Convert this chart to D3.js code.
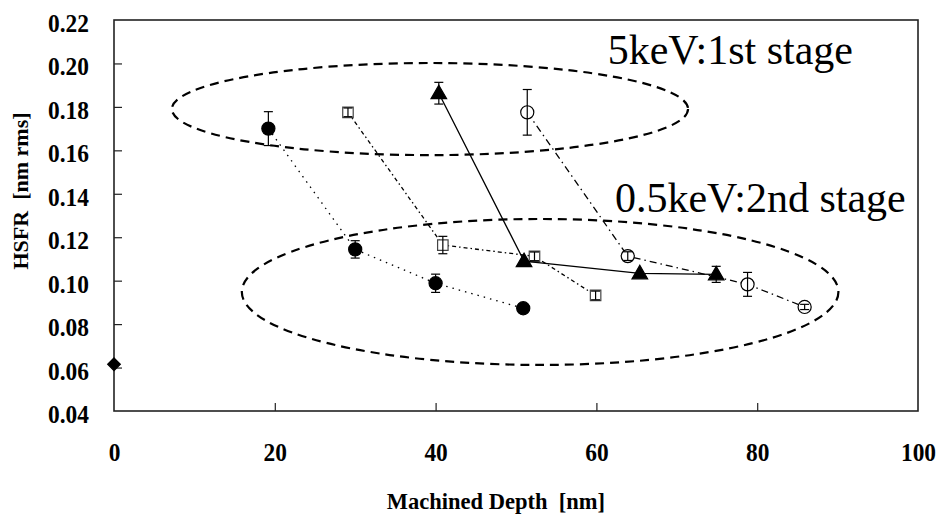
<!DOCTYPE html>
<html>
<head>
<meta charset="utf-8">
<script src="https://cdn.jsdelivr.net/npm/d3@7"></script>
<style>
  body { margin: 0; background: #fff; }
  text { font-family: "Liberation Serif", "Times New Roman", serif; white-space: pre; }
</style>
</head>
<body>
<svg id="chart" width="939" height="516"></svg>
<script>
// ---- data ----
const xTicks = [0, 20, 40, 60, 80, 100];
const yTicks = [0.04, 0.06, 0.08, 0.10, 0.12, 0.14, 0.16, 0.18, 0.20, 0.22];

// untreated point
const startDepth = [0];
const startHsfr = [0.0615];

// filled circles
const circDepth = [19.2, 30.0, 40.0, 50.9];
const circHsfr  = [0.170, 0.1144, 0.0988, 0.0873];
const circErr   = [0.0078, 0.004, 0.0042, 0];

// open squares
const sqDepth = [29.1, 40.9, 52.3, 59.9];
const sqHsfr  = [0.1775, 0.1164, 0.1112, 0.0932];
const sqErr   = [0.002, 0.004, 0.002, 0.002];

// filled triangles
const triDepth = [40.4, 51.0, 65.4, 74.9];
const triHsfr  = [0.1863, 0.109, 0.1034, 0.1029];
const triErr   = [0.005, 0, 0, 0.0037];

// open circles
const ocDepth = [51.4, 63.9, 78.8, 85.9];
const ocHsfr  = [0.1775, 0.1113, 0.0983, 0.0879];
const ocErr   = [0.0105, 0.002, 0.0055, 0.0012];

// stage ellipses (centre + radii in data units) and their labels
const ellipseNames = ['stage1', 'stage2'];
const ellipseCx = [39.3, 53.0];
const ellipseCy = [0.179, 0.0948];
const ellipseRx = [32.1, 37.1];
const ellipseRy = [0.0212, 0.0336];

const noteText = ['5keV:1st stage', '0.5keV:2nd stage'];
const noteX = [61.4, 62.3];
const noteY = [0.1998, 0.1318];

// ---- layout ----
const svg = d3.select('#chart');
const margin = {top: 20, right: 21, bottom: 105, left: 114};
const size = {w: 939 - margin.left - margin.right, h: 516 - margin.top - margin.bottom};

const x = d3.scaleLinear().domain([0, 100]).range([0, size.w]);
const y = d3.scaleLinear().domain([0.04, 0.22]).range([size.h, 0]);

const containerG = svg.append('g')
    .attr('transform', `translate(${margin.left}, ${margin.top})`);

function zip(xs, ys, es) {
    return xs.map((d, i) => ({x: d, y: ys[i], e: es ? es[i] : 0}));
}

// tick labels in the picture are a bit tall and narrow
const squeeze = 0.9;

// ---- axes (ticks point inward) ----
const yAxis = d3.axisLeft(y).tickValues(yTicks).tickSize(-8)
    .tickFormat(d3.format('.2f'));
const xAxis = d3.axisBottom(x).tickValues(xTicks).tickSize(-8)
    .tickFormat(d3.format('d'));

const yG = containerG.append('g').call(yAxis);
const xG = containerG.append('g').attr('transform', `translate(0, ${size.h})`).call(xAxis);

[xG, yG].forEach(g => {
    g.attr('font-family', '"Liberation Serif", serif');
    g.select('.domain').remove();
    g.selectAll('.tick line').attr('stroke', '#222').attr('stroke-width', 1.2);
    g.selectAll('.tick text')
        .attr('fill', '#000')
        .attr('font-size', 26)
        .attr('font-weight', 'bold')
        .attr('dy', 0)
        .attr('transform', `scale(${squeeze}, 1)`);
});
yG.selectAll('.tick text').attr('x', -25 / squeeze).attr('y', 11.5);
xG.selectAll('.tick text').attr('x', 0).attr('y', 50);
yG.selectAll('.tick line').filter(d => d === 0.04 || d === 0.22).remove();
xG.selectAll('.tick line').filter(d => d === 0 || d === 100).remove();

// frame
containerG.append('rect')
    .attr('width', size.w)
    .attr('height', size.h)
    .attr('fill', 'none')
    .attr('stroke', '#222')
    .attr('stroke-width', 1.6);

// axis titles
svg.append('text')
    .attr('x', margin.left + x(47.5))
    .attr('y', 509)
    .attr('text-anchor', 'middle')
    .attr('font-size', 22.5)
    .attr('font-weight', 'bold')
    .text('Machined Depth  [nm]');

svg.append('text')
    .attr('transform', `translate(28, 191) rotate(-90)`)
    .attr('text-anchor', 'middle')
    .attr('font-size', 22)
    .attr('font-weight', 'bold')
    .text('HSFR  [nm rms]');

// ---- ellipses ----
containerG.selectAll('ellipse.stage')
    .data(ellipseNames.map((n, i) => ({n, cx: ellipseCx[i], cy: ellipseCy[i], rx: ellipseRx[i], ry: ellipseRy[i]})))
    .join('ellipse')
    .classed('stage', true)
    .attr('cx', d => x(d.cx))
    .attr('cy', d => y(d.cy))
    .attr('rx', d => x(d.rx) - x(0))
    .attr('ry', d => y(0) - y(d.ry))
    .attr('fill', 'none')
    .attr('stroke', '#000')
    .attr('stroke-width', 2.2)
    .attr('stroke-dasharray', '9,6');

containerG.selectAll('text.note')
    .data(noteText.map((t, i) => ({t, x: noteX[i], y: noteY[i]})))
    .join('text')
    .classed('note', true)
    .attr('x', d => x(d.x))
    .attr('y', d => y(d.y))
    .attr('font-size', 42)
    .attr('fill', '#000')
    .text(d => d.t);

// ---- series ----
const line = d3.line().x(d => x(d.x)).y(d => y(d.y));

const series = [
    {name: 'circ', pts: zip(circDepth, circHsfr, circErr), dash: '1.5,5', sym: 'circle', fill: '#000'},
    {name: 'sq', pts: zip(sqDepth, sqHsfr, sqErr), dash: '4,3,1.5,3', sym: 'square', fill: '#fff'},
    {name: 'tri', pts: zip(triDepth, triHsfr, triErr), dash: null, sym: 'triangle', fill: '#000'},
    {name: 'oc', pts: zip(ocDepth, ocHsfr, ocErr), dash: '7,4,1.5,4', sym: 'circle', fill: '#fff'},
    {name: 'start', pts: zip(startDepth, startHsfr), dash: null, sym: 'diamond', fill: '#000'}
];

// square diamond (d3's own diamond is too tall)
const squareDiamond = {
    draw(ctx, s) {
        const r = Math.sqrt(s / 2);
        ctx.moveTo(0, -r);
        ctx.lineTo(r, 0);
        ctx.lineTo(0, r);
        ctx.lineTo(-r, 0);
        ctx.closePath();
    }
};

const symbols = {
    circle: d3.symbol().type(d3.symbolCircle).size(135),
    square: d3.symbol().type(d3.symbolSquare).size(110),
    triangle: d3.symbol().type(d3.symbolTriangle).size(105),
    diamond: d3.symbol().type(squareDiamond).size(80)
};

const seriesG = containerG.selectAll('g.series')
    .data(series)
    .join('g')
    .classed('series', true);

seriesG.selectAll('path.link')
    .data(d => d.pts.length > 1 ? [d] : [])
    .join('path')
    .classed('link', true)
    .attr('d', d => line(d.pts))
    .attr('fill', 'none')
    .attr('stroke', '#000')
    .attr('stroke-width', 1.3)
    .attr('stroke-dasharray', d => d.dash);

seriesG.selectAll('path.mark')
    .data(d => d.pts.map(p => ({...p, sym: d.sym, fill: d.fill})))
    .join('path')
    .classed('mark', true)
    .attr('transform', d => `translate(${x(d.x)}, ${y(d.y) + (d.sym === 'triangle' ? 1 : 0)})`)
    .attr('d', d => symbols[d.sym]())
    .attr('fill', d => d.fill)
    .attr('stroke', d => d.sym === 'square' ? '#444' : '#000')
    .attr('stroke-width', 1.2);

// error bars with caps
const errG = seriesG.selectAll('g.err')
    .data(d => d.pts.filter(p => p.e > 0))
    .join('g')
    .classed('err', true)
    .attr('stroke', '#000')
    .attr('stroke-width', 1.2);

errG.append('line')
    .attr('x1', d => x(d.x)).attr('x2', d => x(d.x))
    .attr('y1', d => y(d.y + d.e)).attr('y2', d => y(d.y - d.e));
errG.append('line')
    .attr('x1', d => x(d.x) - 4.5).attr('x2', d => x(d.x) + 4.5)
    .attr('y1', d => y(d.y + d.e)).attr('y2', d => y(d.y + d.e));
errG.append('line')
    .attr('x1', d => x(d.x) - 4.5).attr('x2', d => x(d.x) + 4.5)
    .attr('y1', d => y(d.y - d.e)).attr('y2', d => y(d.y - d.e));
</script>
</body>
</html>
